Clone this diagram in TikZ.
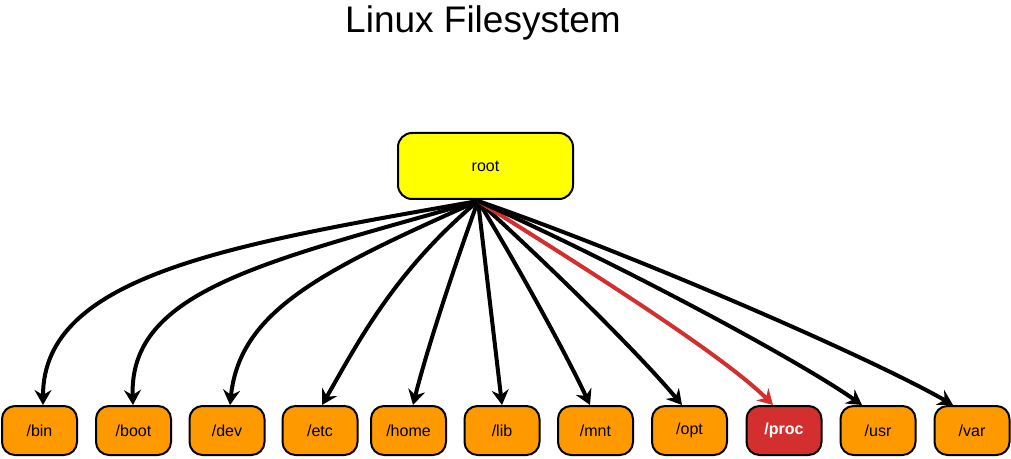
\documentclass[tikz,border=0pt]{standalone}
\usepackage{fontspec}
\setmainfont{Liberation Sans}
\usetikzlibrary{arrows.meta}
\definecolor{dirorange}{RGB}{255,153,0}
\definecolor{procred}{RGB}{211,47,47}
\definecolor{rootyellow}{RGB}{255,255,0}
\begin{document}
\begin{tikzpicture}[x=1pt,y=1pt,
  dirbox/.style={draw=black, line width=2pt, fill=dirorange, rounded corners=13pt,
    minimum width=75pt, minimum height=49pt, inner sep=0pt, font=\fontsize{16}{18}\selectfont},
  procbox/.style={dirbox, fill=procred, text=white, font=\fontsize{16}{18}\selectfont\bfseries},
  rootbox/.style={draw=black, line width=2pt, fill=rootyellow, rounded corners=14pt,
    minimum width=175pt, minimum height=66pt, inner sep=0pt, font=\fontsize{16}{18}\selectfont},
  arr/.style={draw=black, line width=4pt, -{Stealth[length=15pt,width=17pt,inset=5pt]}},
  redarr/.style={arr, draw=procred}
]
\useasboundingbox (0,0) rectangle (1011,458);
\node[font=\fontsize{37}{40}\selectfont, anchor=base] (title) at (483,425) {Linux Filesystem};
\node[rootbox] (root) at (485.5,292) {root};
\coordinate (src) at (478,257);
\node[dirbox] (bin) at (39.5,27.5) {/bin};
\node[dirbox] (boot) at (133.5,27.5) {/boot};
\node[dirbox] (dev) at (227,27.5) {/dev};
\node[dirbox] (etc) at (320,27.5) {/etc};
\node[dirbox] (home) at (408.5,27.5) {/home};
\node[dirbox] (lib) at (502,27.5) {/lib};
\node[dirbox] (mnt) at (595.5,27.5) {/mnt};
\node[dirbox] (opt) at (689.5,27.5) {/opt};
\node[procbox] (proc) at (784,27.5) {/proc};
\node[dirbox] (usr) at (878,27.5) {/usr};
\node[dirbox] (var) at (972,27.5) {/var};
\draw[arr] (src) .. controls +(190:250) and +(90:130) .. ([xshift=3.5pt]bin.north);
\draw[arr] (src) .. controls +(196:220) and +(92:115) .. ([xshift=-0.5pt]boot.north);
\draw[arr] (src) .. controls +(204:170) and +(84:95) .. ([xshift=3pt]dev.north);
\draw[arr] (src) .. controls +(220:110) and +(60:70) .. ([xshift=2pt]etc.north);
\draw[arr] (src) .. controls +(250:60) and +(76:60) .. ([xshift=4.5pt]home.north);
\draw[arr] (src) -- (lib.north);
\draw[arr] (src) .. controls +(-58:60) and +(115:60) .. ([xshift=-5.5pt]mnt.north);
\draw[arr] (src) .. controls +(-42:90) and +(130:70) .. ([xshift=-7.5pt]opt.north);
\draw[redarr] (src) .. controls +(-32:130) and +(135:70) .. ([xshift=-11pt]proc.north);
\draw[arr] (src) .. controls +(-24:150) and +(145:80) .. ([xshift=-16pt]usr.north);
\draw[arr] (src) .. controls +(-19:170) and +(150:90) .. ([xshift=-19pt]var.north);
\end{tikzpicture}
\end{document}
